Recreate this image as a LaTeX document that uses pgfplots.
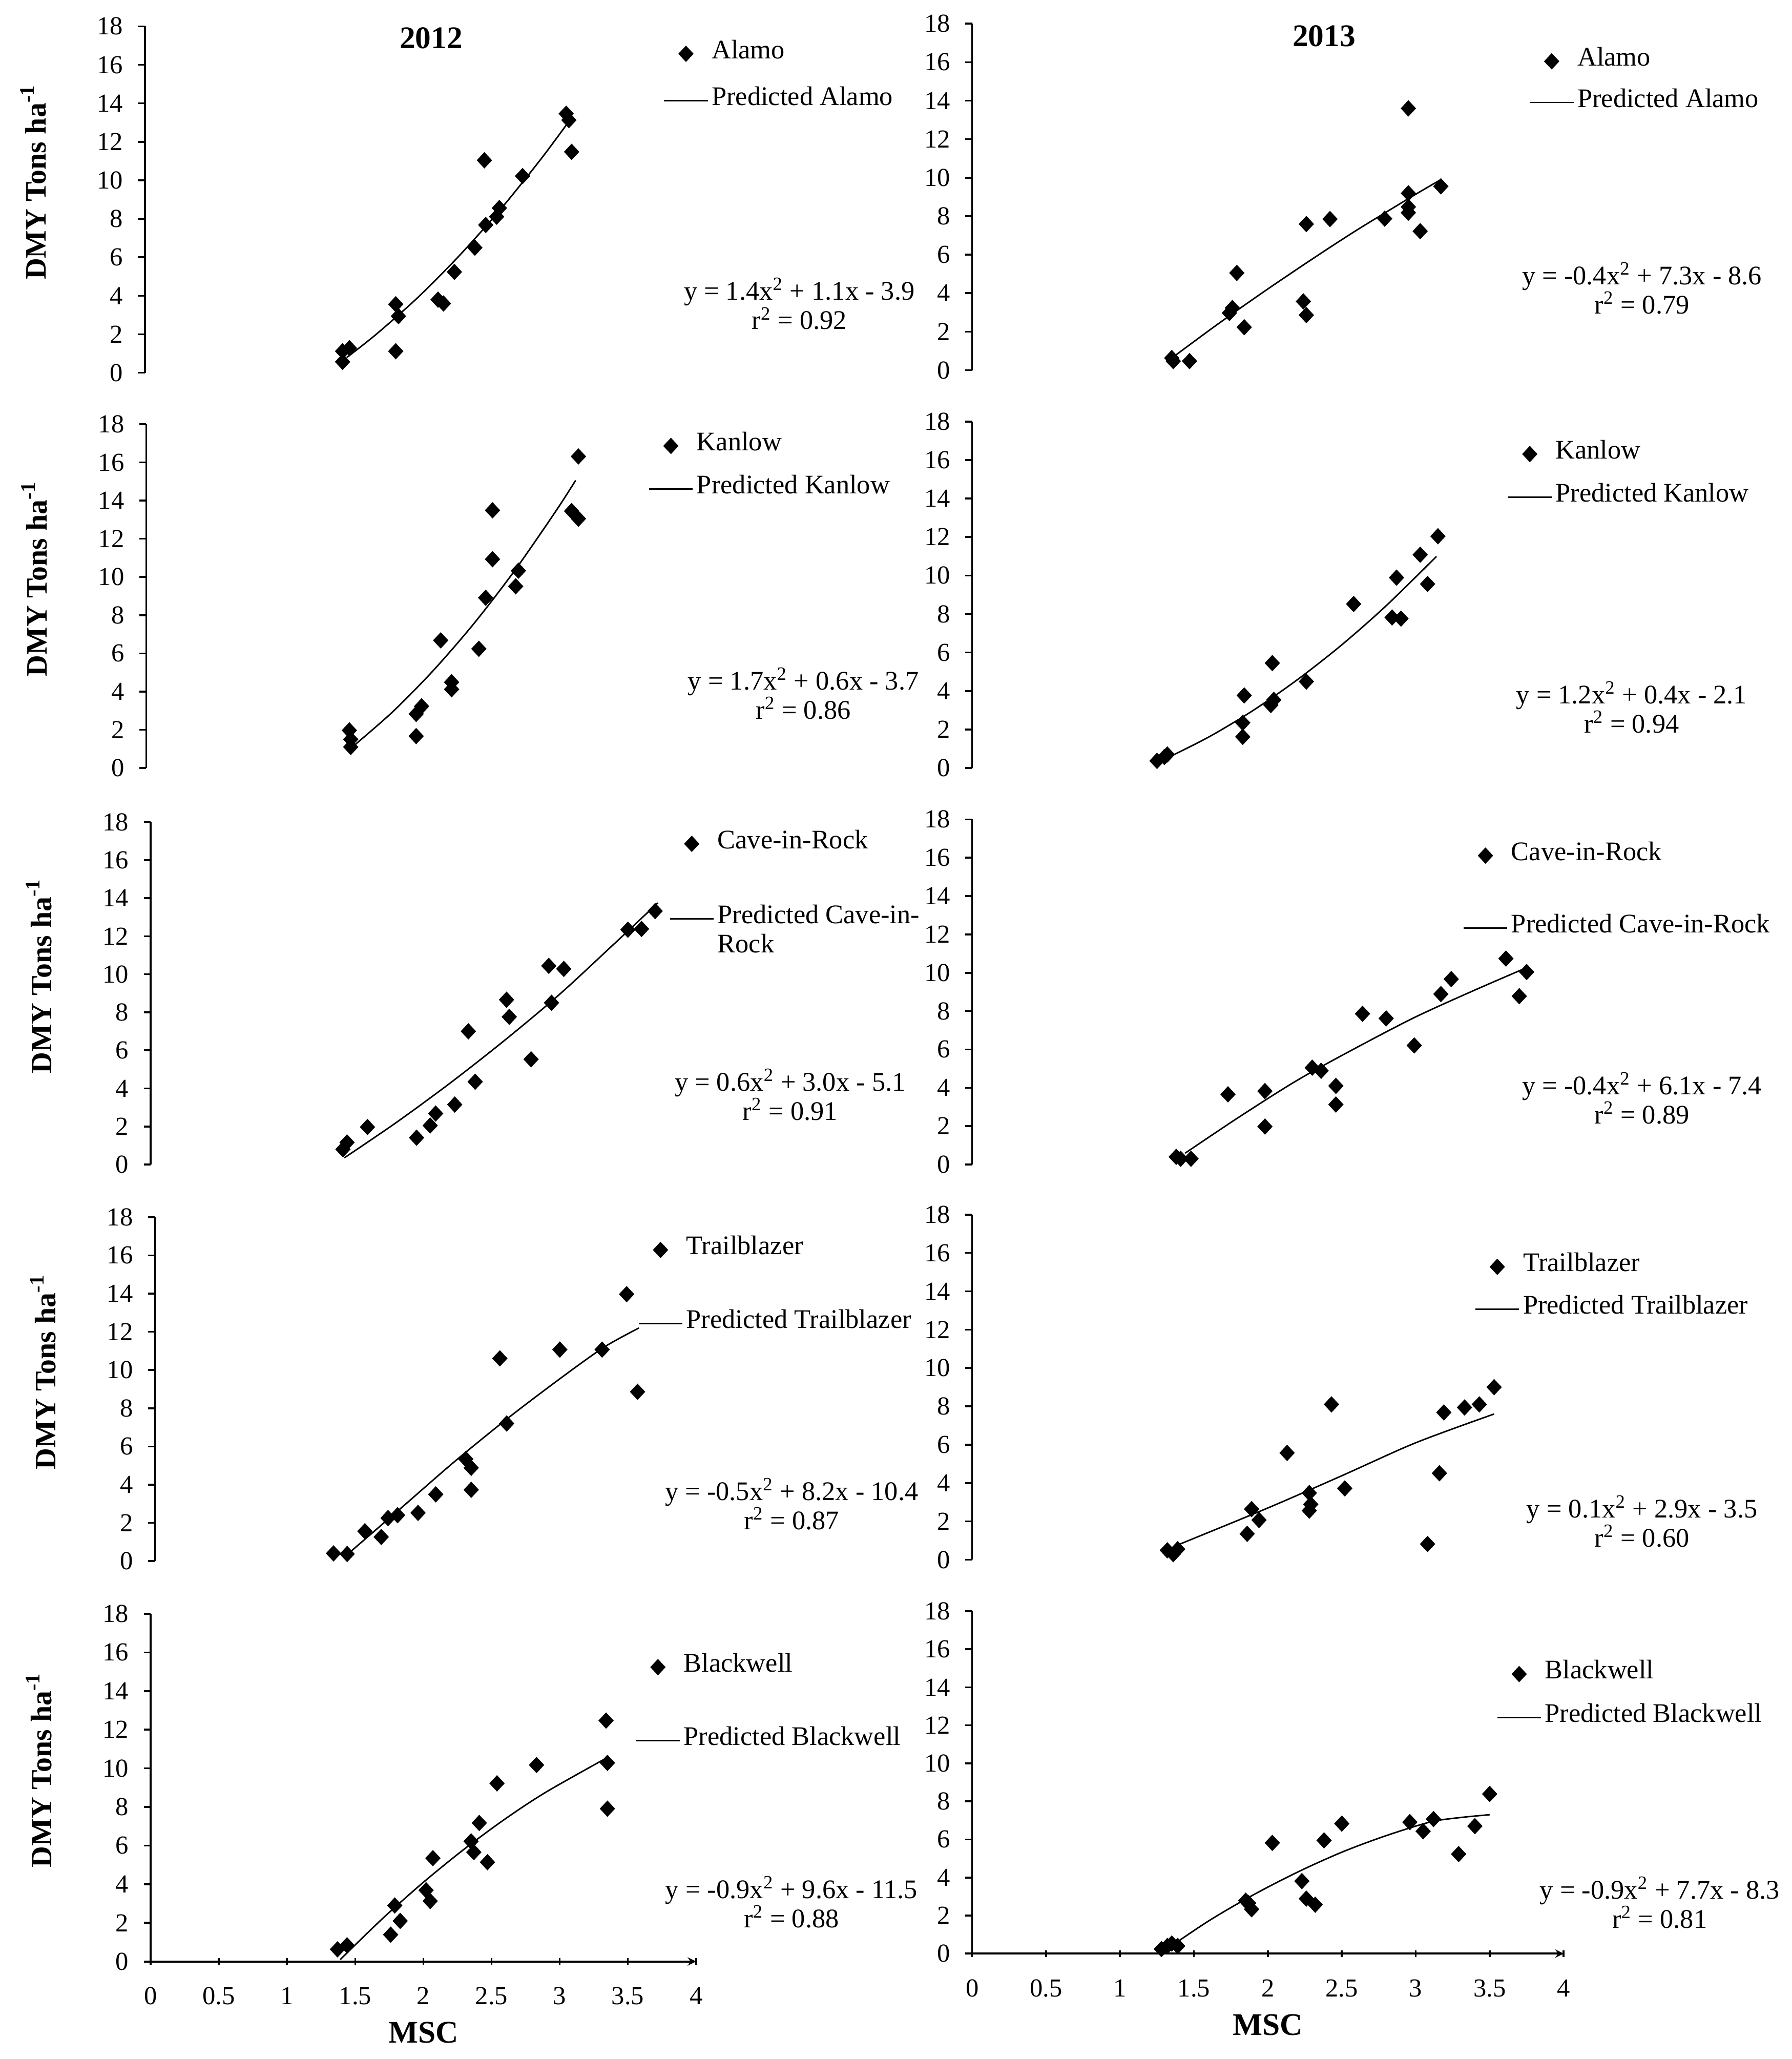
\documentclass[border=0pt]{standalone}
\usepackage{pgfplots}
\pgfplotsset{compat=1.18}
\usepackage{fontspec}
\setmainfont{Liberation Serif}

\newcommand{\txt}{\fontsize{14}{15.8}\selectfont}
\newcommand{\ann}{\fontsize{14.5}{15.8}\selectfont}
\newcommand{\bigb}{\fontsize{17}{20}\selectfont\bfseries}

\pgfplotsset{
  panel/.style={
    scale only axis, height=65.5mm,
    xmin=0, xmax=4, ymin=0, ymax=18,
    xtick={0,0.5,...,4}, ytick={0,2,...,18},
    axis y line=left,
    axis line style={-, line width=1pt},
    tick style={black, line width=1pt},
    major tick length=1.3mm,
    ytick align=outside, xtick align=inside,
    ticklabel style={font=\txt},
    yticklabel style={inner sep=0pt, xshift=-2.8mm},
    /pgf/number format/assume math mode=true,
    clip=false,
    legend cell align=left,
    legend style={draw=none, fill=none, inner sep=0pt, anchor=west,
      column sep=0.6mm, font=\ann,
      nodes={inner sep=0pt, text height=8pt, text depth=3pt}},
  },
  upper/.style={panel, axis x line=none},
  lower/.style={panel, axis x line=bottom, xlabel={MSC},
    xticklabel style={inner sep=0pt, yshift=-4.2mm},
    xlabel style={font=\bigb, at={(axis description cs:0.5,0)},
      anchor=center, yshift=-13.5mm}},
  lcol/.style={width=103.5mm, ylabel={DMY Tons ha\textsuperscript{-1}},
    ylabel style={font=\fontsize{16}{18}\selectfont\bfseries,
      at={(axis description cs:-0.205,0.55)}, anchor=center}},
  rcol/.style={width=112.25mm},
  obs/.style={only marks, mark=diamond*, mark size=1.45mm, black,
    mark options={xscale=1.25},
    legend image code/.code={\draw[mark repeat=2,mark phase=2,##1]
      plot coordinates {(0mm,0mm) (4.15mm,0mm) (8.3mm,0mm)};}},
  fit/.style={black, line width=0.8pt, smooth, no markers,
    legend image code/.code={\draw[##1] (0mm,0mm) -- (8.3mm,0mm);}},
}

\begin{document}
\begin{tikzpicture}
\path[use as bounding box] (0,0) rectangle (340mm,390.75mm);

% ---------- 2012 ----------
\begin{axis}[upper, lcol, height=65.75mm, at={(27.5mm,320mm)}, anchor=south west,
  legend style={at={(0.950,0.853)}, row sep=5.03mm}]
\addplot[obs] coordinates {(1.45,0.57) (1.45,1.12) (1.50,1.28) (1.84,1.12) (1.84,3.56) (1.86,2.94) (2.15,3.8) (2.19,3.6) (2.27,5.24) (2.42,6.5) (2.49,11.04) (2.50,7.68) (2.58,8.11) (2.60,8.56) (2.77,10.22) (3.09,13.46) (3.11,13.13) (3.13,11.48)};
\addlegendentry{Alamo}
\addplot[fit] coordinates {(1.48,0.79) (1.7,2.02) (2.0,3.9) (2.3,6.04) (2.6,8.42) (2.9,11.06) (3.11,13.06)};
\addlegendentry{Predicted Alamo}
\node[font=\bigb] at (axis cs:2.10,17.4) {2012};
\node[font=\ann, align=center] at (axis cs:4.80,3.58) {y = 1.4x\textsuperscript{2} + 1.1x - 3.9\\r\textsuperscript{2} = 0.92};
\end{axis}

\begin{axis}[upper, lcol, height=65.25mm, at={(27.75mm,245mm)}, anchor=south west,
  legend style={at={(0.920,0.874)}, row sep=4.31mm}]
\addplot[obs] coordinates {(1.49,1.97) (1.50,1.50) (1.50,1.10) (1.98,1.67) (1.98,2.83) (2.02,3.23) (2.16,6.68) (2.24,4.49) (2.24,4.12) (2.44,6.24) (2.49,8.91) (2.54,10.93) (2.54,13.49) (2.71,9.51) (2.73,10.33) (3.12,13.45) (3.17,13.05) (3.17,16.31)};
\addlegendentry{Kanlow}
\addplot[fit] coordinates {(1.5,1.03) (1.8,2.89) (2.1,5.06) (2.4,7.53) (2.7,10.31) (3.0,13.4) (3.15,15.06)};
\addlegendentry{Predicted Kanlow}
\node[font=\ann, align=center] at (axis cs:4.82,3.9) {y = 1.7x\textsuperscript{2} + 0.6x - 3.7\\r\textsuperscript{2} = 0.86};
\end{axis}

\begin{axis}[upper, lcol, height=65mm, at={(28.6mm,169.75mm)}, anchor=south west,
  legend style={at={(0.950,0.827)}, row sep=10.35mm}]
\addplot[obs] coordinates {(1.41,0.80) (1.44,1.16) (1.59,1.97) (1.95,1.41) (2.05,2.05) (2.09,2.68) (2.23,3.15) (2.33,7.0) (2.38,4.35) (2.61,8.66) (2.63,7.76) (2.79,5.53) (2.92,10.44) (2.94,8.50) (3.03,10.28) (3.50,12.34) (3.60,12.38) (3.70,13.32)};
\addlegendentry{Cave-in-Rock}
\addplot[fit] coordinates {(1.42,0.35) (1.8,2.2) (2.2,4.3) (2.6,6.55) (3.0,8.95) (3.4,11.6) (3.72,13.75)};
\addlegendentry{\begin{tabular}[t]{@{}l@{}}Predicted Cave-in-\\Rock\end{tabular}}
\node[font=\ann, align=center] at (axis cs:4.69,3.68) {y = 0.6x\textsuperscript{2} + 3.0x - 5.1\\r\textsuperscript{2} = 0.91};
\end{axis}

\begin{axis}[upper, lcol, height=65.25mm, at={(29.4mm,94.5mm)}, anchor=south west,
  legend style={at={(0.885,0.798)}, row sep=10.08mm}]
\addplot[obs] coordinates {(1.31,0.40) (1.41,0.37) (1.54,1.56) (1.66,1.26) (1.71,2.25) (1.78,2.40) (1.93,2.52) (2.06,3.49) (2.28,5.34) (2.32,4.88) (2.32,3.73) (2.53,10.61) (2.58,7.20) (2.97,11.07) (3.28,11.07) (3.46,13.97) (3.54,8.86)};
\addlegendentry{Trailblazer}
\addplot[fit] coordinates {(1.42,0.4) (1.8,2.74) (2.2,5.22) (2.6,7.54) (3.0,9.7) (3.3,11.22) (3.55,12.2)};
\addlegendentry{Predicted Trailblazer}
\node[font=\ann, align=center] at (axis cs:4.67,2.98) {y = -0.5x\textsuperscript{2} + 8.2x - 10.4\\r\textsuperscript{2} = 0.87};
\end{axis}

\begin{axis}[lower, lcol, height=66mm, at={(28.6mm,18.5mm)}, anchor=south west,
  legend style={at={(0.888,0.741)}, row sep=10.05mm}]
\addplot[obs] coordinates {(1.37,0.63) (1.44,0.84) (1.76,1.39) (1.79,2.90) (1.83,2.10) (2.02,3.69) (2.05,3.13) (2.07,5.35) (2.35,6.22) (2.37,5.66) (2.41,7.17) (2.47,5.14) (2.54,9.22) (2.83,10.17) (3.34,12.47) (3.35,10.28) (3.35,7.91)};
\addlegendentry{Blackwell}
\addplot[fit] coordinates {(1.39,0.1) (1.7,2.22) (2.0,4.1) (2.3,5.82) (2.6,7.38) (2.9,8.77) (3.34,10.52)};
\addlegendentry{Predicted Blackwell}
\node[font=\ann, align=center] at (axis cs:4.70,3.07) {y = -0.9x\textsuperscript{2} + 9.6x - 11.5\\r\textsuperscript{2} = 0.88};
\end{axis}

% ---------- 2013 ----------
\begin{axis}[upper, rcol, height=65.75mm, at={(184.5mm,320.5mm)}, anchor=south west,
  legend style={at={(0.941,0.832)}, row sep=3.94mm}]
\addplot[obs] coordinates {(1.35,0.63) (1.36,0.47) (1.47,0.47) (1.74,2.97) (1.76,3.23) (1.79,5.05) (1.84,2.23) (2.24,3.57) (2.26,2.86) (2.26,7.59) (2.42,7.85) (2.79,7.87) (2.95,13.6) (2.95,9.19) (2.95,8.48) (2.95,8.18) (3.03,7.22) (3.17,9.55)};
\addlegendentry{Alamo}
\addplot[fit] coordinates {(1.38,0.8) (1.6,2.05) (1.8,3.15) (2.0,4.22) (2.2,5.26) (2.4,6.28) (2.6,7.27) (2.8,8.21) (3.0,9.14) (3.17,9.9)};
\addlegendentry{Predicted Alamo}
\node[font=\bigb] at (axis cs:2.38,17.36) {2013};
\node[font=\ann, align=center] at (axis cs:4.53,4.25) {y = -0.4x\textsuperscript{2} + 7.3x - 8.6\\r\textsuperscript{2} = 0.79};
\end{axis}

\begin{axis}[upper, rcol, height=65.75mm, at={(184.5mm,245mm)}, anchor=south west,
  legend style={at={(0.904,0.844)}, row sep=4.30mm}]
\addplot[obs] coordinates {(1.25,0.37) (1.30,0.57) (1.32,0.70) (1.83,1.62) (1.83,2.35) (1.84,3.77) (2.02,3.27) (2.04,3.54) (2.03,5.45) (2.26,4.49) (2.58,8.52) (2.84,7.82) (2.90,7.76) (2.87,9.89) (3.03,11.08) (3.08,9.56) (3.15,12.04)};
\addlegendentry{Kanlow}
\addplot[fit] coordinates {(1.3,0.45) (1.6,1.61) (1.9,2.99) (2.2,4.59) (2.5,6.4) (2.8,8.43) (3.14,10.99)};
\addlegendentry{Predicted Kanlow}
\node[font=\ann, align=center] at (axis cs:4.46,3.15) {y = 1.2x\textsuperscript{2} + 0.4x - 2.1\\r\textsuperscript{2} = 0.94};
\end{axis}

\begin{axis}[upper, rcol, height=65.5mm, at={(184.5mm,169.75mm)}, anchor=south west,
  legend style={at={(0.829,0.790)}, row sep=9.88mm}]
\addplot[obs] coordinates {(1.38,0.40) (1.41,0.30) (1.48,0.30) (1.73,3.66) (1.98,3.83) (1.98,1.98) (2.30,5.05) (2.36,4.89) (2.46,4.10) (2.46,3.13) (2.64,7.86) (2.80,7.62) (2.99,6.21) (3.17,8.89) (3.24,9.67) (3.61,10.74) (3.70,8.78) (3.75,10.04)};
\addlegendentry{Cave-in-Rock}
\addplot[fit] coordinates {(1.44,0.59) (1.8,2.45) (2.2,4.4) (2.6,6.1) (3.0,7.7) (3.4,9.1) (3.73,10.2)};
\addlegendentry{Predicted Cave-in-Rock}
\node[font=\ann, align=center] at (axis cs:4.53,3.45) {y = -0.4x\textsuperscript{2} + 6.1x - 7.4\\r\textsuperscript{2} = 0.89};
\end{axis}

\begin{axis}[upper, rcol, height=65.5mm, at={(184.5mm,94.75mm)}, anchor=south west,
  legend style={at={(0.849,0.787)}, row sep=4.2mm}]
\addplot[obs] coordinates {(1.32,0.49) (1.36,0.29) (1.39,0.55) (1.86,1.35) (1.89,2.64) (1.94,2.07) (2.13,5.57) (2.28,3.48) (2.29,2.89) (2.28,2.56) (2.43,8.10) (2.52,3.72) (3.08,0.82) (3.16,4.51) (3.19,7.68) (3.33,7.94) (3.43,8.10) (3.53,9.0)};
\addlegendentry{Trailblazer}
\addplot[fit] coordinates {(1.4,0.8) (2.0,2.7) (2.5,4.38) (3.0,6.1) (3.53,7.6)};
\addlegendentry{Predicted Trailblazer}
\node[font=\ann, align=center] at (axis cs:4.53,2.0) {y = 0.1x\textsuperscript{2} + 2.9x - 3.5\\r\textsuperscript{2} = 0.60};
\end{axis}

\begin{axis}[lower, rcol, height=65mm, at={(184.5mm,20mm)}, anchor=south west,
  legend style={at={(0.886,0.753)}, row sep=4.35mm}]
\addplot[obs] coordinates {(1.28,0.24) (1.32,0.40) (1.35,0.53) (1.39,0.40) (1.85,2.78) (1.87,2.65) (1.89,2.33) (2.03,5.82) (2.23,3.81) (2.26,2.89) (2.32,2.57) (2.38,5.95) (2.50,6.83) (2.96,6.91) (3.05,6.43) (3.12,7.07) (3.29,5.23) (3.40,6.70) (3.50,8.39)};
\addlegendentry{Blackwell}
\addplot[fit] coordinates {(1.29,0.1) (1.6,1.72) (1.9,3.08) (2.2,4.28) (2.5,5.33) (2.8,6.2) (3.1,6.92) (3.3,7.15) (3.5,7.3)};
\addlegendentry{Predicted Blackwell}
\node[font=\ann, align=center] at (axis cs:4.65,2.68) {y = -0.9x\textsuperscript{2} + 7.7x - 8.3\\r\textsuperscript{2} = 0.81};
\end{axis}
\end{tikzpicture}
\end{document}
